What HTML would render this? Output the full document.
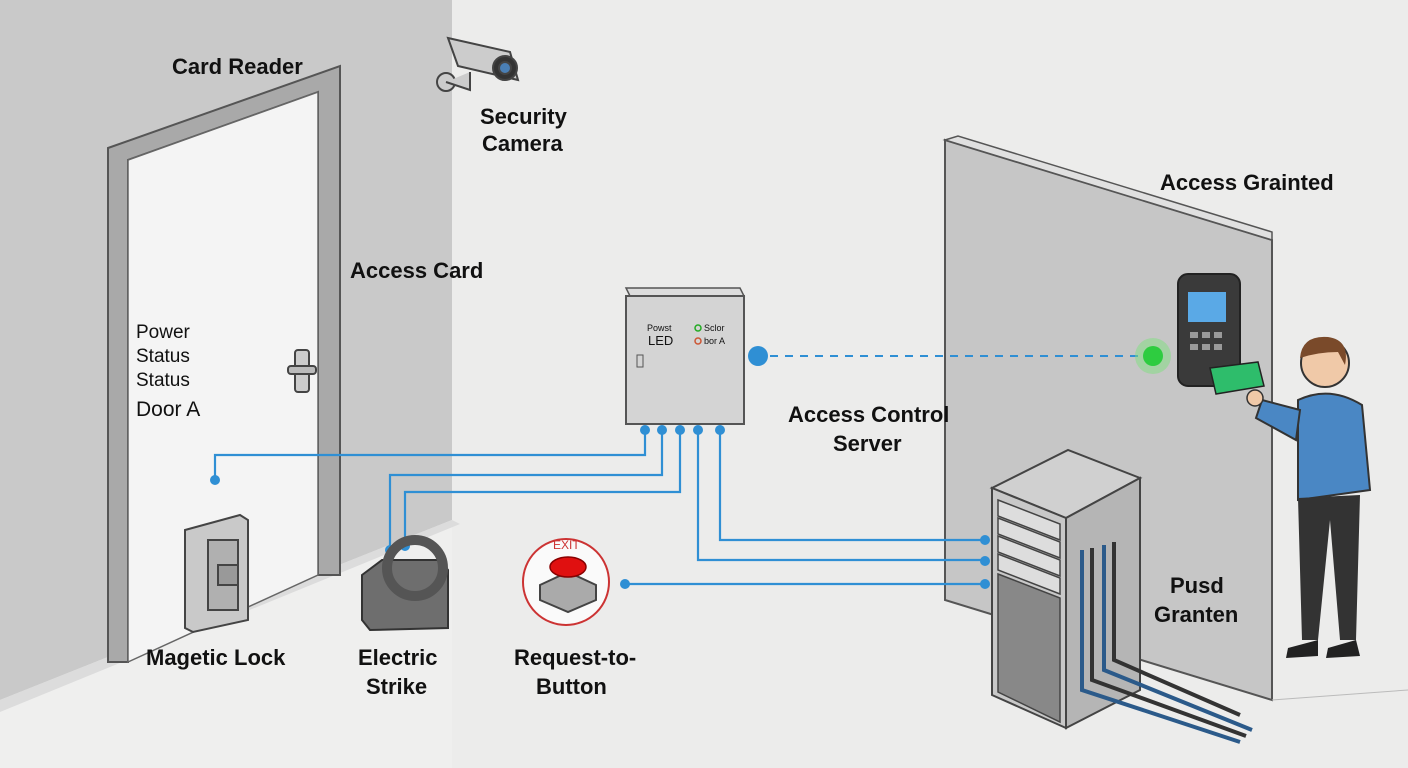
<!DOCTYPE html>
<html><head><meta charset="utf-8"><style>
html,body{margin:0;padding:0;background:#efefee}
svg{display:block}
text{font-family:"Liberation Sans",sans-serif;fill:#111}
.b{font-weight:bold;font-size:22px}
</style></head><body>
<svg width="1408" height="768" viewBox="0 0 1408 768" xmlns="http://www.w3.org/2000/svg">
<rect width="1408" height="768" fill="#efefee"/>
<rect x="452" y="0" width="956" height="768" fill="#ececeb"/>
<!-- left wall -->
<polygon points="0,0 452,0 452,520 0,700" fill="#c9c9c9"/>
<polygon points="0,700 452,520 460,524 0,712" fill="#dcdcdc"/>
<!-- door frame -->
<polygon points="108,148 340,66 340,575 318,575 318,92 128,160 128,662 108,662" fill="#a9a9a9" stroke="#555" stroke-width="2"/>
<polygon points="128,160 318,92 318,575 128,662" fill="#f4f4f4" stroke="#666" stroke-width="1.5"/>
<!-- handle -->
<rect x="295" y="350" width="14" height="42" rx="3" fill="#ccc" stroke="#444" stroke-width="2"/>
<rect x="288" y="366" width="28" height="8" rx="3" fill="#bbb" stroke="#444" stroke-width="2"/>
<!-- camera -->
<g stroke="#444" stroke-width="2" fill="#ccc">
<circle cx="446" cy="82" r="9"/>
<path d="M446,82 L470,90 L470,72"/>
<polygon points="448,38 510,52 518,80 458,66"/>
<circle cx="505" cy="68" r="12" fill="#333"/>
<circle cx="505" cy="68" r="6" fill="#4a7fb5"/>
</g>
<!-- right wall panel -->
<polygon points="945,140 1272,240 1272,700 945,600" fill="#c6c6c6" stroke="#555" stroke-width="2"/>
<polygon points="945,140 958,136 1272,232 1272,240" fill="#e0e0e0" stroke="#555" stroke-width="1.5"/>
<!-- floor lines -->
<line x1="1272" y1="700" x2="1408" y2="690" stroke="#bbb"/>
<!-- wires -->
<g fill="none" stroke="#2f8fd4" stroke-width="2.2">
<path d="M215,480 V455 H645 V428"/>
<path d="M390,548 V475 H662 V428"/>
<path d="M405,545 V492 H680 V428"/>
<path d="M698,428 V560 H985"/>
<path d="M720,428 V540 H985"/>
<path d="M625,584 H985"/>
</g>
<g fill="#2f8fd4">
<circle cx="645" cy="430" r="5"/><circle cx="662" cy="430" r="5"/><circle cx="680" cy="430" r="5"/><circle cx="698" cy="430" r="5"/><circle cx="720" cy="430" r="5"/>
<circle cx="215" cy="480" r="5"/><circle cx="390" cy="550" r="5"/><circle cx="405" cy="546" r="5"/>
<circle cx="985" cy="540" r="5"/><circle cx="985" cy="561" r="5"/><circle cx="985" cy="584" r="5"/>
<circle cx="625" cy="584" r="5"/>
<circle cx="758" cy="356" r="10"/>
</g>
<line x1="770" y1="356" x2="1145" y2="356" stroke="#2f8fd4" stroke-width="2" stroke-dasharray="8,7"/>
<circle cx="1153" cy="356" r="18" fill="#7de07d" opacity="0.5"/>
<circle cx="1153" cy="356" r="10" fill="#2ecc40"/>
<!-- control box -->
<polygon points="626,288 740,288 744,296 630,296" fill="#ddd" stroke="#555" stroke-width="1.5"/>
<rect x="626" y="296" width="118" height="128" fill="#d4d4d4" stroke="#555" stroke-width="2"/>
<rect x="637" y="355" width="6" height="12" fill="none" stroke="#555"/>
<text x="647" y="331" font-size="9">Powst</text>
<text x="648" y="345" font-size="13">LED</text>
<circle cx="698" cy="328" r="3" fill="none" stroke="#2a2" stroke-width="1.5"/><text x="704" y="331" font-size="9">Sclor</text>
<circle cx="698" cy="341" r="3" fill="none" stroke="#c53" stroke-width="1.5"/><text x="704" y="344" font-size="9">bor A</text>
<!-- magnetic lock -->
<polygon points="185,530 240,515 248,520 248,620 193,632 185,628" fill="#c9c9c9" stroke="#444" stroke-width="2"/>
<rect x="208" y="540" width="30" height="70" fill="#b0b0b0" stroke="#444" stroke-width="2"/>
<rect x="218" y="565" width="20" height="20" fill="#999" stroke="#444" stroke-width="2"/>
<!-- electric strike -->
<path d="M362,575 L382,560 L440,560 L448,570 L448,628 L370,630 L362,620 Z" fill="#6e6e6e" stroke="#333" stroke-width="2"/>
<circle cx="415" cy="568" r="28" fill="none" stroke="#555" stroke-width="10"/>
<!-- exit button -->
<circle cx="566" cy="582" r="43" fill="#fafafa" stroke="#c33" stroke-width="2"/>
<text x="553" y="549" font-size="12" fill="#c33" style="fill:#c33">EXIT</text>
<polygon points="540,585 568,572 596,585 596,600 568,612 540,600" fill="#aaa" stroke="#444" stroke-width="2"/>
<ellipse cx="568" cy="567" rx="18" ry="10" fill="#e01010" stroke="#800" stroke-width="1.5"/>
<!-- server -->
<polygon points="992,488 1068,450 1140,478 1066,518" fill="#d0d0d0" stroke="#444" stroke-width="2"/>
<polygon points="1066,518 1140,478 1140,690 1066,728" fill="#b5b5b5" stroke="#444" stroke-width="2"/>
<polygon points="992,488 1066,518 1066,728 992,695" fill="#c8c8c8" stroke="#444" stroke-width="2"/>
<g stroke="#444" stroke-width="1.5" fill="#ddd">
<polygon points="998,500 1060,524 1060,540 998,516"/>
<polygon points="998,518 1060,542 1060,558 998,534"/>
<polygon points="998,536 1060,560 1060,576 998,552"/>
<polygon points="998,554 1060,578 1060,594 998,570"/>
</g>
<polygon points="998,574 1060,598 1060,722 998,692" fill="#888" stroke="#444" stroke-width="1.5"/>
<g fill="none" stroke-width="4">
<path d="M1082,550 V690 L1240,742" stroke="#2b5a8a"/>
<path d="M1092,548 V680 L1246,736" stroke="#333"/>
<path d="M1104,545 V670 L1252,730" stroke="#2b5a8a"/>
<path d="M1114,542 V660 L1240,715" stroke="#333"/>
</g>
<!-- card reader -->
<rect x="1178" y="274" width="62" height="112" rx="10" fill="#3a3a3a" stroke="#222" stroke-width="2"/>
<rect x="1188" y="292" width="38" height="30" fill="#5aa9e6"/>
<g fill="#999"><rect x="1190" y="332" width="8" height="6"/><rect x="1202" y="332" width="8" height="6"/><rect x="1214" y="332" width="8" height="6"/><rect x="1190" y="344" width="8" height="6"/><rect x="1202" y="344" width="8" height="6"/><rect x="1214" y="344" width="8" height="6"/></g>
<polygon points="1210,368 1258,362 1264,386 1216,394" fill="#2ebd6b" stroke="#222" stroke-width="1.5"/>
<!-- person -->
<circle cx="1325" cy="363" r="24" fill="#f0c9a8" stroke="#333" stroke-width="2"/>
<path d="M1300,358 Q1302,335 1328,337 Q1350,340 1345,365 L1338,352 Q1318,352 1300,358Z" fill="#7a4a2a"/>
<path d="M1298,400 Q1330,385 1362,405 L1370,490 L1298,500 Z" fill="#4a87c4" stroke="#333" stroke-width="2"/>
<path d="M1300,410 L1262,400 L1256,418 L1296,440 Z" fill="#4a87c4" stroke="#333" stroke-width="2"/>
<circle cx="1255" cy="398" r="8" fill="#f0c9a8" stroke="#333" stroke-width="1.5"/>
<path d="M1298,498 L1302,640 L1318,640 L1330,520 L1340,640 L1356,640 L1360,495 Z" fill="#333"/>
<path d="M1288,648 L1318,640 L1318,656 L1286,658 Z M1328,648 L1356,640 L1360,656 L1326,658 Z" fill="#222"/>
<!-- labels -->
<text class="b" x="172" y="74">Card Reader</text>
<text class="b" x="480" y="124">Security</text>
<text class="b" x="482" y="151">Camera</text>
<text class="b" x="350" y="278">Access Card</text>
<text x="136" y="338" font-size="19">Power</text>
<text x="136" y="362" font-size="19">Status</text>
<text x="136" y="386" font-size="19">Status</text>
<text x="136" y="416" font-size="21">Door A</text>
<text class="b" x="788" y="422">Access Control</text>
<text class="b" x="833" y="451">Server</text>
<text class="b" x="1160" y="190">Access Grainted</text>
<text class="b" x="1170" y="593">Pusd</text>
<text class="b" x="1154" y="622">Granten</text>
<text class="b" x="146" y="665">Magetic Lock</text>
<text class="b" x="358" y="665">Electric</text>
<text class="b" x="366" y="694">Strike</text>
<text class="b" x="514" y="665">Request-to-</text>
<text class="b" x="536" y="694">Button</text>
</svg>
</body></html>
